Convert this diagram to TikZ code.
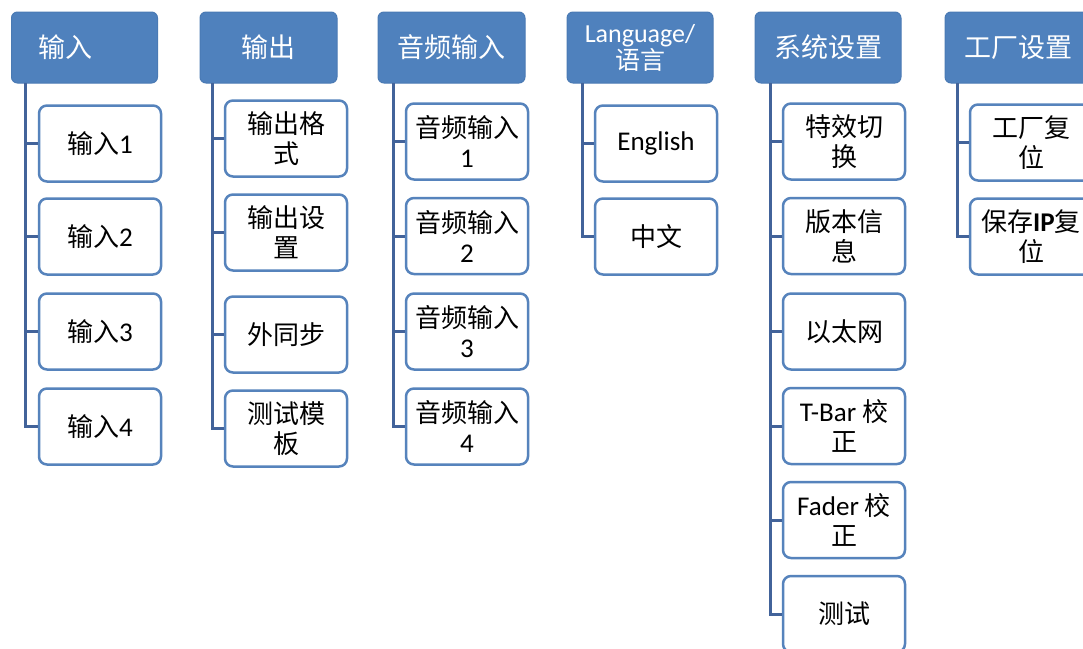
\documentclass[tikz,border=0pt]{standalone}
\usepackage{fontspec}
\setmainfont{Noto Sans CJK SC}
\newfontfamily\lat{Carlito}[Scale=1.04]
\definecolor{hdrfill}{HTML}{4F81BD}
\definecolor{hdrline}{HTML}{4A7AB4}
\definecolor{boxline}{HTML}{5683BC}
\definecolor{connline}{HTML}{42639A}
\tikzset{
  hdr/.style={rounded corners=6pt, fill=hdrfill, draw=hdrline, line width=1pt,
    minimum height=71pt, text=white, align=center, inner sep=0pt,
    font=\fontsize{27}{30}\selectfont},
  kid/.style={rounded corners=8pt, fill=white, draw=boxline, line width=2.5pt,
    minimum height=76pt, minimum width=122pt, text=black, align=center, inner sep=0pt,
    font=\fontsize{26}{30}\selectfont},
  conn/.style={draw=connline, line width=3pt}
}
\begin{document}
\begin{tikzpicture}[x=1pt,y=-1pt]
\clip (0,0) rectangle (1083,648);
\fill[white] (0,0) rectangle (1083,648);

% column 1
\node[hdr, minimum width=146pt, text width=92pt, inner xsep=27pt, align=left] (h1) at (84.5,47.5) {输入};
\node[kid] (a1) at (100,143.5) {输入{\lat 1}};
\node[kid] (a2) at (100,236.5) {输入{\lat 2}};
\node[kid] (a3) at (100,331.5) {输入{\lat 3}};
\node[kid] (a4) at (100,426.5) {输入{\lat 4}};
\coordinate (s1) at (25,83);

% column 2
\node[hdr, minimum width=137pt] (h2) at (268.5,47.5) {输出};
\node[kid] (b1) at (286,138.5) {输出格\\式};
\node[kid] (b2) at (286,232.5) {输出设\\置};
\node[kid] (b3) at (286,334.5) {外同步};
\node[kid] (b4) at (286,428.5) {测试模\\板};
\coordinate (s2) at (212,83);

% column 3
\node[hdr, minimum width=147pt] (h3) at (451.5,47.5) {音频输入};
\node[kid] (c1) at (467,141.5) {音频输入\\{\lat 1}};
\node[kid] (c2) at (467,236) {音频输入\\{\lat 2}};
\node[kid] (c3) at (467,331.5) {音频输入\\{\lat 3}};
\node[kid] (c4) at (467,426.5) {音频输入\\{\lat 4}};
\coordinate (s3) at (393,83);

% column 4
\node[hdr, minimum width=146pt, font=\fontsize{25}{27}\selectfont] (h4) at (640,47.5) {{\lat Language/}\\语言};
\node[kid] (d1) at (656,143.5) {{\lat English}};
\node[kid] (d2) at (656,236.5) {中文};
\coordinate (s4) at (582,83);

% column 5
\node[hdr, minimum width=146pt] (h5) at (828,47.5) {系统设置};
\node[kid] (e1) at (844,141.5) {特效切\\换};
\node[kid] (e2) at (844,236) {版本信\\息};
\node[kid] (e3) at (844,331.5) {以太网};
\node[kid] (e4) at (844,426) {{\lat T-Bar} 校\\正};
\node[kid] (e5) at (844,520) {{\lat Fader} 校\\正};
\node[kid] (e6) at (844,614) {测试};
\coordinate (s5) at (770,83);

% column 6
\node[hdr, minimum width=146pt] (h6) at (1018,47.5) {工厂设置};
\node[kid] (f1) at (1031,142.5) {工厂复\\位};
\node[kid] (f2) at (1031,236.5) {保存{\lat\bfseries IP}复\\位};
\coordinate (s6) at (957,83);

% connectors
\draw[conn] (s1) |- (a4.west);
\foreach \n in {a1,a2,a3} \draw[conn] (s1 |- \n.west) -- (\n.west);
\draw[conn] (s2) |- (b4.west);
\foreach \n in {b1,b2,b3} \draw[conn] (s2 |- \n.west) -- (\n.west);
\draw[conn] (s3) |- (c4.west);
\foreach \n in {c1,c2,c3} \draw[conn] (s3 |- \n.west) -- (\n.west);
\draw[conn] (s4) |- (d2.west);
\draw[conn] (s4 |- d1.west) -- (d1.west);
\draw[conn] (s5) |- (e6.west);
\foreach \n in {e1,e2,e3,e4,e5} \draw[conn] (s5 |- \n.west) -- (\n.west);
\draw[conn] (s6) |- (f2.west);
\draw[conn] (s6 |- f1.west) -- (f1.west);
\end{tikzpicture}
\end{document}
